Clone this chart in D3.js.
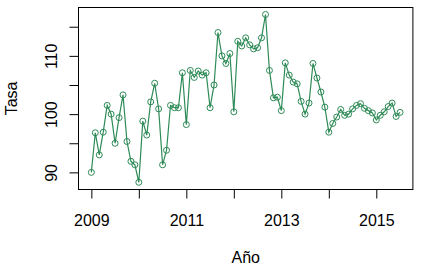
<!DOCTYPE html>
<html>
<head>
<meta charset="utf-8">
<script src="https://cdn.jsdelivr.net/npm/d3@7"></script>
<style>
  body { margin: 0; background: #fff; }
  text { font-family: "Liberation Sans", Arial, sans-serif; }
</style>
</head>
<body>
<div id="chart"></div>
<script>
// monthly series, starts Jan 2009
const startYear = 2009;
const tasa = [
  90.0, 96.8, 93.0, 96.9, 101.5, 100.0, 95.0, 99.4, 103.3, 95.3, 91.9, 91.3,
  88.3, 98.8, 96.4, 102.1, 105.3, 100.9, 91.3, 93.8, 101.5, 101.1, 101.1, 107.1,
  98.2, 107.5, 106.3, 107.4, 106.7, 107.1, 101.1, 105.0, 114.0, 110.0, 108.7, 110.4,
  100.4, 112.5, 111.7, 113.1, 111.9, 111.2, 111.4, 113.1, 117.1, 107.5, 102.8, 102.9,
  100.6, 108.8, 106.7, 105.5, 105.2, 102.2, 100.0, 101.9, 108.7, 106.2, 103.8, 101.2,
  96.9, 98.4, 99.5, 100.8, 99.8, 100.0, 100.9, 101.5, 101.8, 101.0, 100.6, 100.2,
  99.0, 99.8, 100.4, 101.3, 101.9, 99.6, 100.3
];
const xTicks = [2009, 2010, 2011, 2012, 2013, 2014, 2015];
const xLabeled = [2009, 2011, 2013, 2015];
const yTicks = [90, 95, 100, 105, 110, 115];
const yLabeled = [90, 100, 110];

const width = 421, height = 269;
const data = tasa.map((v, i) => ({ t: startYear + i / 12, v }));

const svg = d3.select('#chart').append('svg')
  .attr('width', width)
  .attr('height', height);

// R style 4% padding on both axes
const pad = ext => {
  const d = (ext[1] - ext[0]) * 0.04;
  return [ext[0] - d, ext[1] + d];
};

const xScale = d3.scaleLinear()
  .domain(pad(d3.extent(data, d => d.t)))
  .range([79, 412.4]);
const yScale = d3.scaleLinear()
  .domain(pad(d3.extent(data, d => d.v)))
  .range([189, 7.8]);

const col = '#2E8B57';

// plot box
svg.append('rect')
  .attr('x', 78.5)
  .attr('y', 7.5)
  .attr('width', 412.9 - 78.5)
  .attr('height', 189.5 - 7.5)
  .attr('fill', 'none')
  .attr('stroke', 'black')
  .attr('stroke-width', 1);

const axisConfig = g => {
  g.selectAll('.domain').remove();
  g.selectAll('line').attr('stroke', 'black').attr('stroke-width', 1);
  g.selectAll('text').attr('font-size', 16).attr('fill', 'black');
};

const xAxis = d3.axisBottom(xScale)
  .tickValues(xTicks)
  .tickSize(9)
  .tickFormat(d => xLabeled.includes(d) ? d : '');
svg.append('g')
  .attr('transform', 'translate(0, 189.5)')
  .call(xAxis)
  .call(axisConfig)
  .call(g => g.selectAll('text').attr('y', 0).attr('dy', 0)
    .attr('transform', 'translate(0, 36)'));

const yAxis = d3.axisLeft(yScale)
  .tickValues(yTicks)
  .tickSize(9)
  .tickFormat(d => yLabeled.includes(d) ? d : '');
svg.append('g')
  .attr('transform', 'translate(78.5, 0)')
  .call(yAxis)
  .call(axisConfig)
  .call(g => g.selectAll('text')
    .attr('x', null).attr('dy', null)
    .attr('text-anchor', 'middle')
    .attr('transform', 'translate(-22, 0) rotate(-90)'));

// series line + open circles
const line = d3.line()
  .x(d => xScale(d.t))
  .y(d => yScale(d.v));
svg.append('path')
  .datum(data)
  .attr('d', line)
  .attr('fill', 'none')
  .attr('stroke', col)
  .attr('stroke-width', 1.2);

svg.append('g')
  .selectAll('circle').data(data)
  .enter().append('circle')
    .attr('cx', d => xScale(d.t))
    .attr('cy', d => yScale(d.v))
    .attr('r', 3)
    .attr('fill', 'none')
    .attr('stroke', col)
    .attr('stroke-width', 1);

// axis titles
svg.append('text')
  .attr('x', (79 + 412.4) / 2)
  .attr('y', 263)
  .attr('text-anchor', 'middle')
  .attr('font-size', 16)
  .text('Año');

svg.append('text')
  .attr('transform', `translate(17, ${(7.8 + 189) / 2}) rotate(-90)`)
  .attr('text-anchor', 'middle')
  .attr('font-size', 16)
  .text('Tasa');
</script>
</body>
</html>
